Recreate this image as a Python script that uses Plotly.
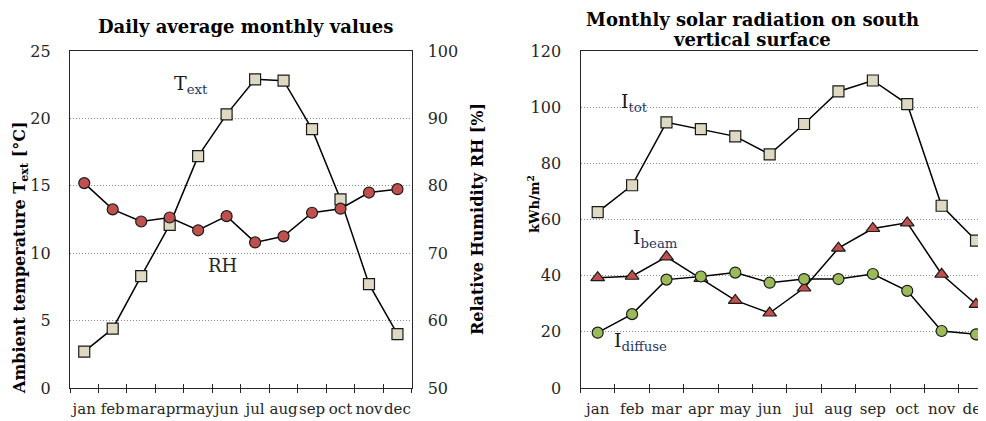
import plotly.graph_objects as go

months = ["jan", "feb", "mar", "apr", "may", "jun", "jul", "aug", "sep", "oct", "nov", "dec"]

# Left chart: daily average monthly values
t_ext = [2.7, 4.4, 8.3, 12.1, 17.2, 20.3, 22.9, 22.8, 19.2, 14.0, 7.7, 4.0]
rh = [80.4, 76.5, 74.7, 75.3, 73.4, 75.5, 71.6, 72.5, 76.0, 76.6, 79.0, 79.5]

# Right chart: monthly solar radiation on south vertical surface [kWh/m2]
i_tot = [62.6, 72.2, 94.6, 92.2, 89.6, 83.2, 94.0, 105.6, 109.5, 101.1, 64.9, 52.5]
i_beam = [39.3, 39.8, 46.7, 39.0, 31.2, 26.7, 35.6, 49.8, 56.8, 58.8, 40.5, 29.8]
i_diffuse = [19.7, 26.3, 38.6, 39.7, 41.1, 37.5, 38.8, 38.8, 40.6, 34.6, 20.3, 19.1]

SERIF = "DejaVu Serif"
BEIGE = "#ddd9c3"
RED = "#c0504d"
GREEN = "#9bbb59"
EDGE = "#1a1a1a"
TXT = "#262626"
SUBC = "#1f3864"
GRID = "#8c8c8c"

# page body has an 8px margin; the figure fills the rest of the 986x421 window
OFF = 8
W, H = 986 - OFF, 421 - OFF
def px_x(a, b):
    return [(a - OFF) / W, (b - OFF) / W]
def px_y(top, bottom):
    return [(H - (bottom - OFF)) / H, (H - (top - OFF)) / H]
def sx(s):
    return (s - OFF) / W
def sy(s):
    return 1 - (s - OFF) / H

Y_DOM = px_y(51, 388)
XL_DOM = px_x(70, 411.7)
XR_DOM = [sx(580.5), 1.0]

fig = go.Figure()

line_style = dict(color="#000000", width=1.5)

fig.add_trace(go.Scatter(x=months, y=t_ext, mode="lines+markers", xaxis="x", yaxis="y",
                         line=line_style,
                         marker=dict(symbol="square", size=11, color=BEIGE, line=dict(color=EDGE, width=1.2)),
                         showlegend=False))
fig.add_trace(go.Scatter(x=months, y=rh, mode="lines+markers", xaxis="x", yaxis="y2",
                         line=line_style,
                         marker=dict(symbol="circle", size=11, color=RED, line=dict(color=EDGE, width=1.2)),
                         showlegend=False))

fig.add_trace(go.Scatter(x=months, y=i_tot, mode="lines+markers", xaxis="x2", yaxis="y3",
                         line=line_style,
                         marker=dict(symbol="square", size=11, color=BEIGE, line=dict(color=EDGE, width=1.2)),
                         showlegend=False))
fig.add_trace(go.Scatter(x=months, y=i_beam, mode="lines+markers", xaxis="x2", yaxis="y3",
                         line=line_style,
                         marker=dict(symbol="triangle-up", size=12, color=RED, line=dict(color=EDGE, width=1.2)),
                         showlegend=False))
fig.add_trace(go.Scatter(x=months, y=i_diffuse, mode="lines+markers", xaxis="x2", yaxis="y3",
                         line=line_style,
                         marker=dict(symbol="circle", size=11, color=GREEN, line=dict(color=EDGE, width=1.2)),
                         showlegend=False))

tickfont = dict(family=SERIF, size=16, color=TXT)
xtickfont = dict(family=SERIF, size=15, color=TXT)
axline = dict(showline=True, linecolor="#262626", linewidth=1.3)

bounds = [i + 0.5 for i in range(len(months) - 1)]

fig.update_layout(
    width=W, height=H,
    margin=dict(l=0, r=0, t=0, b=0),
    paper_bgcolor="white", plot_bgcolor="white",
    xaxis=dict(domain=XL_DOM, anchor="y", type="category", categoryarray=months,
               range=[-0.5, 11.5], tickson="boundaries", ticks="outside", ticklen=4,
               tickcolor="#262626", mirror=True, showgrid=False, tickfont=xtickfont,
               tickangle=0, automargin=False, ticklabelstandoff=7, **axline),
    xaxis3=dict(domain=XL_DOM, anchor="y", overlaying="x", type="linear", range=[-0.5, 11.5],
                tickvals=bounds, ticks="inside", ticklen=4, tickcolor="#262626", automargin=False,
                showticklabels=False, showgrid=False, showline=False, zeroline=False),
    yaxis=dict(domain=Y_DOM, anchor="x", range=[0, 25], dtick=5, ticks="",
               mirror=True, showgrid=True, gridcolor=GRID, griddash="1px,2px", gridwidth=1,
               zeroline=False, tickfont=tickfont, ticklabelstandoff=15, automargin=False, **axline),
    yaxis2=dict(domain=Y_DOM, anchor="x", overlaying="y", side="right", range=[50, 100], dtick=10,
                ticks="", showgrid=False, zeroline=False, showline=False, tickfont=tickfont,
                ticklabelstandoff=15, automargin=False),
    xaxis2=dict(domain=XR_DOM, anchor="y3", type="category", categoryarray=months,
                range=[-0.5, 11.29], tickson="boundaries", ticks="outside", ticklen=4,
                tickcolor="#262626", mirror=True, showgrid=False, tickfont=xtickfont,
                tickangle=0, automargin=False, ticklabelstandoff=7, **axline),
    xaxis4=dict(domain=XR_DOM, anchor="y3", overlaying="x2", type="linear", range=[-0.5, 11.29],
                tickvals=bounds, ticks="inside", ticklen=4, tickcolor="#262626", automargin=False,
                showticklabels=False, showgrid=False, showline=False, zeroline=False),
    yaxis3=dict(domain=Y_DOM, anchor="x2", range=[0, 120], dtick=20, ticks="",
                mirror=False, showgrid=True, gridcolor=GRID, griddash="1px,2px", gridwidth=1,
                zeroline=False, tickfont=tickfont, ticklabelstandoff=15, automargin=False, **axline),
)

def sub_label(main, sub):
    return f"<span style='color:#1a1a1a'>{main}</span><sub><span style='color:{SUBC}'>{sub}</span></sub>"

ann_font = dict(family=SERIF, size=19, color="#1a1a1a")
title_font = dict(family=SERIF, size=18, color="#000000")
annotations = [
    # chart titles
    dict(text="<b>Daily average monthly values</b>", x=sx(245), y=sy(26), xref="paper", yref="paper",
         showarrow=False, font=title_font, xanchor="center", yanchor="middle"),
    dict(text="<b>Monthly solar radiation on south</b>", x=sx(752), y=sy(19),
         xref="paper", yref="paper", showarrow=False,
         font=title_font, xanchor="center", yanchor="middle"),
    dict(text="<b>vertical surface</b>", x=sx(752), y=sy(39),
         xref="paper", yref="paper", showarrow=False,
         font=title_font, xanchor="center", yanchor="middle"),
    # axis titles
    dict(text="<b>Ambient temperature T<sub>ext</sub> [°C]</b>", x=sx(20), y=sy(258),
         xref="paper", yref="paper", showarrow=False, textangle=-90,
         font=dict(family=SERIF, size=16, color="#000000"), xanchor="center", yanchor="middle"),
    dict(text="<b>Relative Humidity RH [%]</b>", x=sx(477), y=sy(219),
         xref="paper", yref="paper", showarrow=False, textangle=-90,
         font=dict(family=SERIF, size=16, color="#000000"), xanchor="center", yanchor="middle"),
    dict(text="<b>kWh/m<sup>2</sup></b>", x=sx(533), y=sy(204),
         xref="paper", yref="paper", showarrow=False, textangle=-90,
         font=dict(family=SERIF, size=13, color="#000000"), xanchor="center", yanchor="middle"),
    # series labels
    dict(text=sub_label("T", "ext"), x=3.75, y=22.55, xref="x3", yref="y", showarrow=False, font=ann_font),
    dict(text="RH", x=4.84, y=9.12, xref="x3", yref="y", showarrow=False,
         font=dict(family=SERIF, size=18, color="#262626")),
    dict(text=sub_label("I", "tot"), x=1.08, y=101.8, xref="x4", yref="y3", showarrow=False, font=ann_font),
    dict(text=sub_label("I", "beam"), x=1.67, y=53.4, xref="x4", yref="y3", showarrow=False, font=ann_font),
    dict(text=sub_label("I", "diffuse"), x=1.23, y=16.4, xref="x4", yref="y3", showarrow=False, font=ann_font),
]
fig.update_layout(annotations=annotations)

fig.write_html("out.html")
